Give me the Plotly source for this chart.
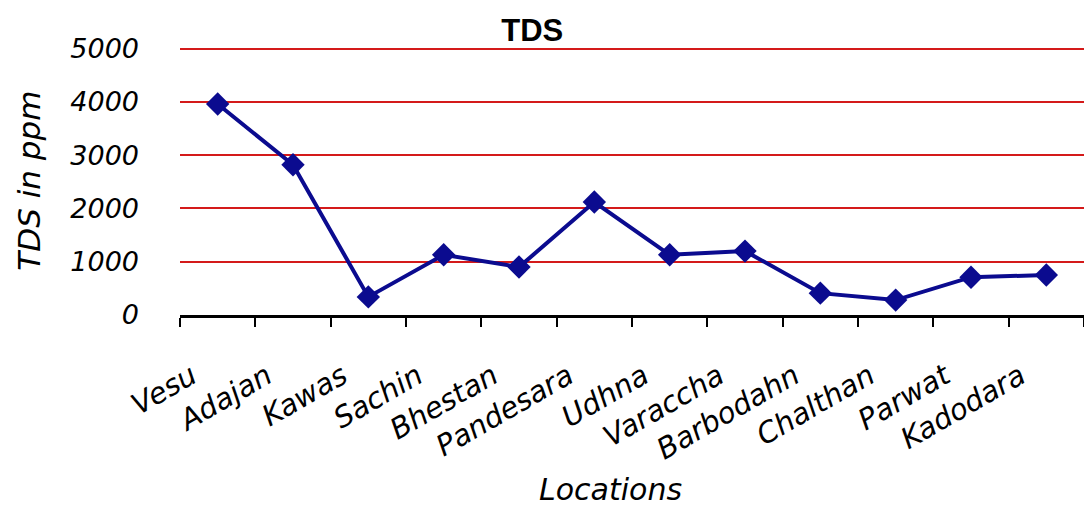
import plotly.graph_objects as go

locations = ["Vesu", "Adajan", "Kawas", "Sachin", "Bhestan", "Pandesara", "Udhna",
             "Varaccha", "Barbodahn", "Chalthan", "Parwat", "Kadodara"]
tds_ppm = [3960, 2820, 340, 1130, 900, 2120, 1130, 1200, 410, 280, 710, 750]
y_ticks = [0, 1000, 2000, 3000, 4000, 5000]

FONT = "DejaVu Sans"
NAVY = "#0b0b8f"

fig = go.Figure()
fig.add_trace(go.Scatter(
    x=locations, y=tds_ppm, mode="lines+markers",
    line=dict(color=NAVY, width=4),
    marker=dict(symbol="diamond", size=18, color=NAVY),
    showlegend=False,
))

fig.update_layout(
    width=1084, height=508,
    margin=dict(l=180, r=0, t=46, b=193, autoexpand=False),
    paper_bgcolor="white", plot_bgcolor="white",
    title=dict(text="TDS", x=0.491, xref="container", y=0.94, yref="container",
               xanchor="center", yanchor="middle",
               font=dict(family="Liberation Sans", size=31, color="black", weight="bold")),
    xaxis=dict(
        type="category", range=[-0.5, 11.5], automargin=False,
        showline=True, linecolor="black", linewidth=3,
        ticks="outside", tickson="boundaries", ticklen=9, tickcolor="black", tickwidth=1.5,
        tickangle=-30, showgrid=False,
        tickfont=dict(family=FONT, size=29, color="black", style="italic"),
        ticklabelstandoff=30, ticklabelshift=-26,
    ),
    yaxis=dict(
        range=[0, 5050], tickvals=y_ticks, automargin=False,
        showline=False, ticks="", zeroline=False,
        showgrid=True, gridcolor="#d41a1a", gridwidth=1.6,
        tickfont=dict(family=FONT, size=27, color="black", style="italic"),
        ticklabelstandoff=40,
    ),
    annotations=[
        dict(text="TDS in ppm", xref="paper", yref="paper", x=-0.168, y=0.5,
             textangle=-90, showarrow=False, xanchor="center", yanchor="middle",
             font=dict(family=FONT, size=31, color="black", style="italic")),
        dict(text="Locations", xref="paper", yref="paper", x=(610 - 180) / 904,
             y=(315 - 489) / 269, showarrow=False, xanchor="center", yanchor="middle",
             font=dict(family=FONT, size=30, color="black", style="italic")),
    ],
)

fig.write_html("out.html", config={"displayModeBar": False},
               post_script="document.body.style.margin='0';")
